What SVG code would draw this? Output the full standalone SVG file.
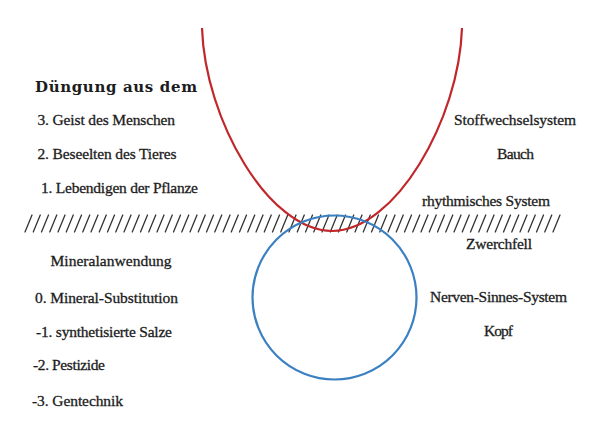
<svg xmlns="http://www.w3.org/2000/svg" width="600" height="438" viewBox="0 0 600 438">
<style>
  text { font-family: "Liberation Serif", "DejaVu Serif", serif; font-size: 15.5px; fill: #1c1c1c; stroke: #1c1c1c; stroke-width: 0.3; }
  .title { font-family: "DejaVu Serif", "Liberation Serif", serif; font-weight: bold; font-size: 15px; stroke: none; }
  .hatch { stroke: #333; stroke-width: 1.3; fill: none; stroke-linecap: round; }
  .red { stroke: #c0262a; stroke-width: 2.2; fill: none; }
  .blue { stroke: #3a80c2; stroke-width: 2.2; fill: none; }
</style>
<rect x="0" y="0" width="600" height="438" fill="#ffffff"/>
<g id="hatching">
  <path class="hatch" d="M25,232l7-17m1.25,17l7-17m1.25,17l7-17m1.25,17l7-17m1.25,17l7-17m1.25,17l7-17m1.25,17l7-17m1.25,17l7-17m1.25,17l7-17m1.25,17l7-17m1.25,17l7-17m1.25,17l7-17m1.25,17l7-17m1.25,17l7-17m1.25,17l7-17m1.25,17l7-17m1.25,17l7-17m1.25,17l7-17m1.25,17l7-17m1.25,17l7-17m1.25,17l7-17m1.25,17l7-17m1.25,17l7-17m1.25,17l7-17m1.25,17l7-17m1.25,17l7-17m1.25,17l7-17m1.25,17l7-17m1.25,17l7-17m1.25,17l7-17m1.25,17l7-17m1.25,17l7-17m1.25,17l7-17m1.25,17l7-17m1.25,17l7-17m1.25,17l7-17m1.25,17l7-17m1.25,17l7-17m1.25,17l7-17m1.25,17l7-17m1.25,17l7-17m1.25,17l7-17m1.25,17l7-17m1.25,17l7-17m1.25,17l7-17m1.25,17l7-17m1.25,17l7-17m1.25,17l7-17m1.25,17l7-17m1.25,17l7-17m1.25,17l7-17m1.25,17l7-17m1.25,17l7-17m1.25,17l7-17m1.25,17l7-17m1.25,17l7-17m1.25,17l7-17m1.25,17l7-17m1.25,17l7-17m1.25,17l7-17m1.25,17l7-17m1.25,17l7-17m1.25,17l7-17m1.25,17l7-17m1.25,17l7-17"/>
</g>
<g id="connectors">
  <path id="red-curve" class="red" d="M202,28 C205,120 269,231 332,231 C395,231 459,120 462,28"/>
  <circle id="blue-circle" class="blue" cx="334.5" cy="297.5" r="82"/>
</g>
<g id="left-upper">
  <text class="title" x="35" y="92" textLength="162">Düngung aus dem</text>
  <text x="37.5" y="125" textLength="137.5">3. Geist des Menschen</text>
  <text x="37.5" y="159" textLength="139">2. Beseelten des Tieres</text>
  <text x="41" y="193" textLength="157">1. Lebendigen der Pflanze</text>
</g>
<g id="left-lower">
  <text x="50.5" y="266" textLength="121">Mineralanwendung</text>
  <text x="35" y="303" textLength="143">0. Mineral-Substitution</text>
  <text x="36" y="337" textLength="136">-1. synthetisierte Salze</text>
  <text x="33" y="370" textLength="72">-2. Pestizide</text>
  <text x="32" y="406" textLength="91">-3. Gentechnik</text>
</g>
<g id="right-labels">
  <text x="454" y="125" textLength="122">Stoffwechselsystem</text>
  <text x="497" y="158.5" textLength="37">Bauch</text>
  <text x="422" y="206" textLength="128">rhythmisches System</text>
  <text x="466" y="248.5" textLength="66">Zwerchfell</text>
  <text x="430" y="302" textLength="137">Nerven-Sinnes-System</text>
  <text x="484" y="335.5" textLength="29">Kopf</text>
</g>
</svg>
